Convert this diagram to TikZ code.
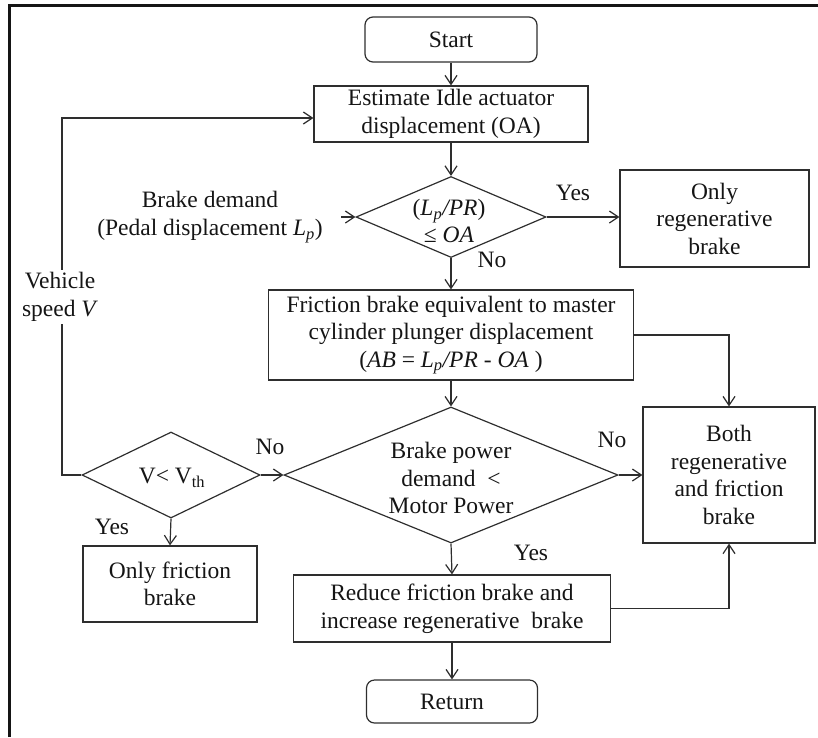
\documentclass[tikz,border=0pt]{standalone}
\usepackage{fontspec}
\setmainfont{Liberation Serif}
\usetikzlibrary{shapes.geometric,arrows.meta}
\definecolor{lc}{HTML}{2E2E2E}
\definecolor{tc}{HTML}{151515}
\newcommand{\Lsubp}{\textit{L}\textsubscript{\textit{p}}}
\begin{document}
\begin{tikzpicture}[x=1pt,y=-1pt,
  every node/.style={font=\fontsize{23.5}{27.5}\selectfont, text=tc},
  box/.style={draw=lc, line width=1.2pt, rectangle, align=center, inner sep=0pt},
  term/.style={box, rounded corners=8pt},
  dia/.style={draw=lc, line width=1.2pt, diamond, inner sep=0pt},
  lbl/.style={inner sep=0pt, align=center},
  arr/.style={draw=lc, line width=1.2pt, -{Straight Barb[length=9pt,width=12pt]}},
  lin/.style={draw=lc, line width=1.2pt}]
\useasboundingbox (0,0) rectangle (818,737);
% frame
\draw[line width=3pt, draw=tc] (9,737) -- (9,5) -- (818,5);
% nodes
\node[term, minimum width=172pt, minimum height=45pt] (start) at (451,39.5) {Start};
\node[box, minimum width=274pt, minimum height=56pt] (est) at (451,114) {Estimate Idle actuator\\displacement (OA)};
\node[dia, minimum width=190pt, minimum height=81pt] (d1) at (451,217) {};
\node[lbl] (d1t) at (449,221) {(\Lsubp\textit{/PR})\\≤ \textit{OA}};
\node[box, minimum width=189pt, minimum height=97pt] (regen) at (714.5,218.5) {Only\\regenerative\\brake};
\node[box, minimum width=365pt, minimum height=90pt] (fric) at (451,335) {Friction brake equivalent to master\\cylinder plunger displacement\\(\textit{AB} = \Lsubp\textit{/PR} - \textit{OA} )};
\node[dia, minimum width=334pt, minimum height=136pt] (d2) at (451,475) {};
\node[lbl] (d2t) at (451,478) {Brake power\\demand~ <\\Motor Power};
\node[box, minimum width=172pt, minimum height=136pt] (both) at (729,475) {Both\\regenerative\\and friction\\brake};
\node[dia, minimum width=178pt, minimum height=86pt] (d3) at (171,475) {};
\node[lbl] (d3t) at (172,478) {V< V\textsubscript{th}};
\node[box, minimum width=174pt, minimum height=76pt] (ofric) at (170,584) {Only friction\\brake};
\node[box, minimum width=317pt, minimum height=67pt] (reduce) at (452,608.5) {Reduce friction brake and\\increase regenerative~ brake};
\node[term, minimum width=171pt, minimum height=43pt] (ret) at (452,701.5) {Return};
\node[lbl] (bd) at (210,217) {Brake demand\\(Pedal displacement \Lsubp)};
\coordinate (bdtail) at (341,217);
\coordinate (loopc) at (62,118);
% labels
\node[lbl] (yes1) at (573,193) {Yes};
\node[lbl] (no1) at (492,260) {No};
\node[lbl] (no2) at (270,447) {No};
\node[lbl] (no3) at (612,440) {No};
\node[lbl] (yes2) at (112,527) {Yes};
\node[lbl] (yes3) at (531,553) {Yes};
% connectors
\draw[arr] (start) -- (est);
\draw[arr] (est) -- (d1.north);
\draw[arr] (bdtail) -- (d1.west);
\draw[arr] (d1.east) -- (regen.west |- d1.east);
\draw[arr] (d1.south) -- (fric.north);
\draw[arr] (fric.east) -| (both.north);
\draw[arr] (fric.south) -- (d2.north);
\draw[arr] (d2.east) -- (both.west);
\draw[arr] (d2.south) -- (reduce.north);
\draw[arr] (reduce.east) -| (both.south);
\draw[arr] (reduce.south) -- (ret.north);
\draw[arr] (d3.east) -- (d2.west);
\draw[arr] (d3.south) -- (ofric.north);
\draw[arr] (d3.west) -| (loopc) -- (loopc -| est.west);
\node[lbl, fill=white, inner sep=3pt] (vs) at (60,297) {Vehicle\\speed \textit{V}};
\end{tikzpicture}
\end{document}
